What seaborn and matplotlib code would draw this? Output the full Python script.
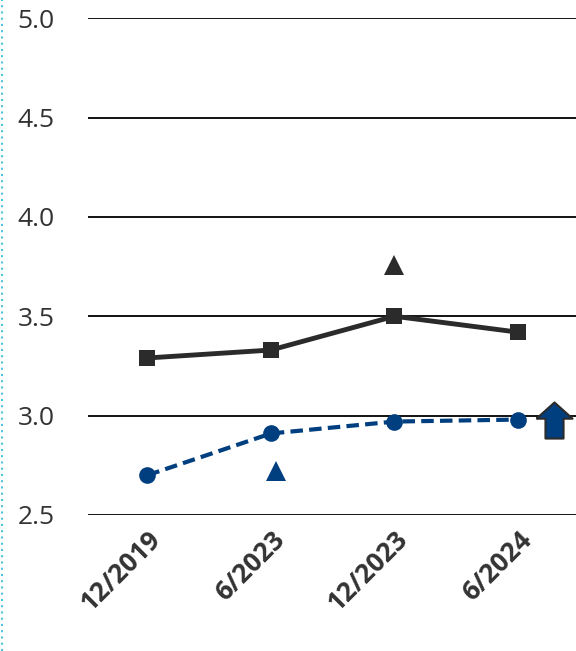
import numpy as np
import pandas as pd
import matplotlib.pyplot as plt
import seaborn as sns
from matplotlib.lines import Line2D

periods = ['12/2019', '6/2023', '12/2023', '6/2024']
black_vals = [3.29, 3.33, 3.50, 3.42]
blue_vals = [2.70, 2.91, 2.97, 2.98]
black_tri = (2, 3.76)
blue_tri = (1.04, 2.72)
arrow_pt = (3.29, 2.98)

black = '#2b2b2b'
blue = '#003f7f'

sns.set_style('white')
plt.rcParams['font.family'] = ['Open Sans', 'DejaVu Sans']

fig = plt.figure(figsize=(5.76, 6.51), dpi=100)
ax = fig.add_axes([0.153, 0.209, 0.847, 0.763])

df = pd.DataFrame({'x': range(len(periods)), 'black': black_vals, 'blue': blue_vals})
sns.lineplot(data=df, x='x', y='black', ax=ax, color=black, lw=3.5, marker='s',
             markersize=12, markeredgewidth=0)
sns.lineplot(data=df, x='x', y='blue', ax=ax, color=blue, lw=3, marker='o',
             markersize=12, markeredgewidth=0, linestyle=(0, (3, 1.5)))
ax.plot(*black_tri, marker='^', color=black, markersize=15, mew=0)
ax.plot(*blue_tri, marker='^', color=blue, markersize=15, mew=0)
arrow = [(-0.5, 0.05), (0, 0.5), (0.5, 0.05), (0.25, 0.05), (0.25, -0.5), (-0.25, -0.5), (-0.25, 0.05), (-0.5, 0.05)]
ax.plot(*arrow_pt, marker=arrow, color=blue, markersize=26, mec=black, mew=1.5)

ax.set_xlim(-0.48, 3.47)
ax.set_ylim(2.5, 5.0)
ax.set_yticks(np.arange(2.5, 5.01, 0.5))
ax.set_yticklabels([f'{v:.1f}' for v in np.arange(2.5, 5.01, 0.5)], fontsize=19, color='#333333')
ax.set_xticks(range(len(periods)))
ax.set_xticklabels(periods, rotation=45, ha='right', rotation_mode='anchor',
                   fontsize=19, fontweight='bold', color='#333333')
ax.tick_params(axis='y', length=0, pad=24)
ax.tick_params(axis='x', length=0, pad=8)
ax.grid(axis='y', color='black', lw=1.3)
ax.set_axisbelow(True)
for s in ax.spines.values():
    s.set_visible(False)
ax.set_xlabel('')
ax.set_ylabel('')

fig.add_artist(Line2D([0.004, 0.004], [0, 1], color='#4fc3d9', lw=1.5, linestyle=(0, (1, 2))))

fig.savefig('out.png', dpi=100)
